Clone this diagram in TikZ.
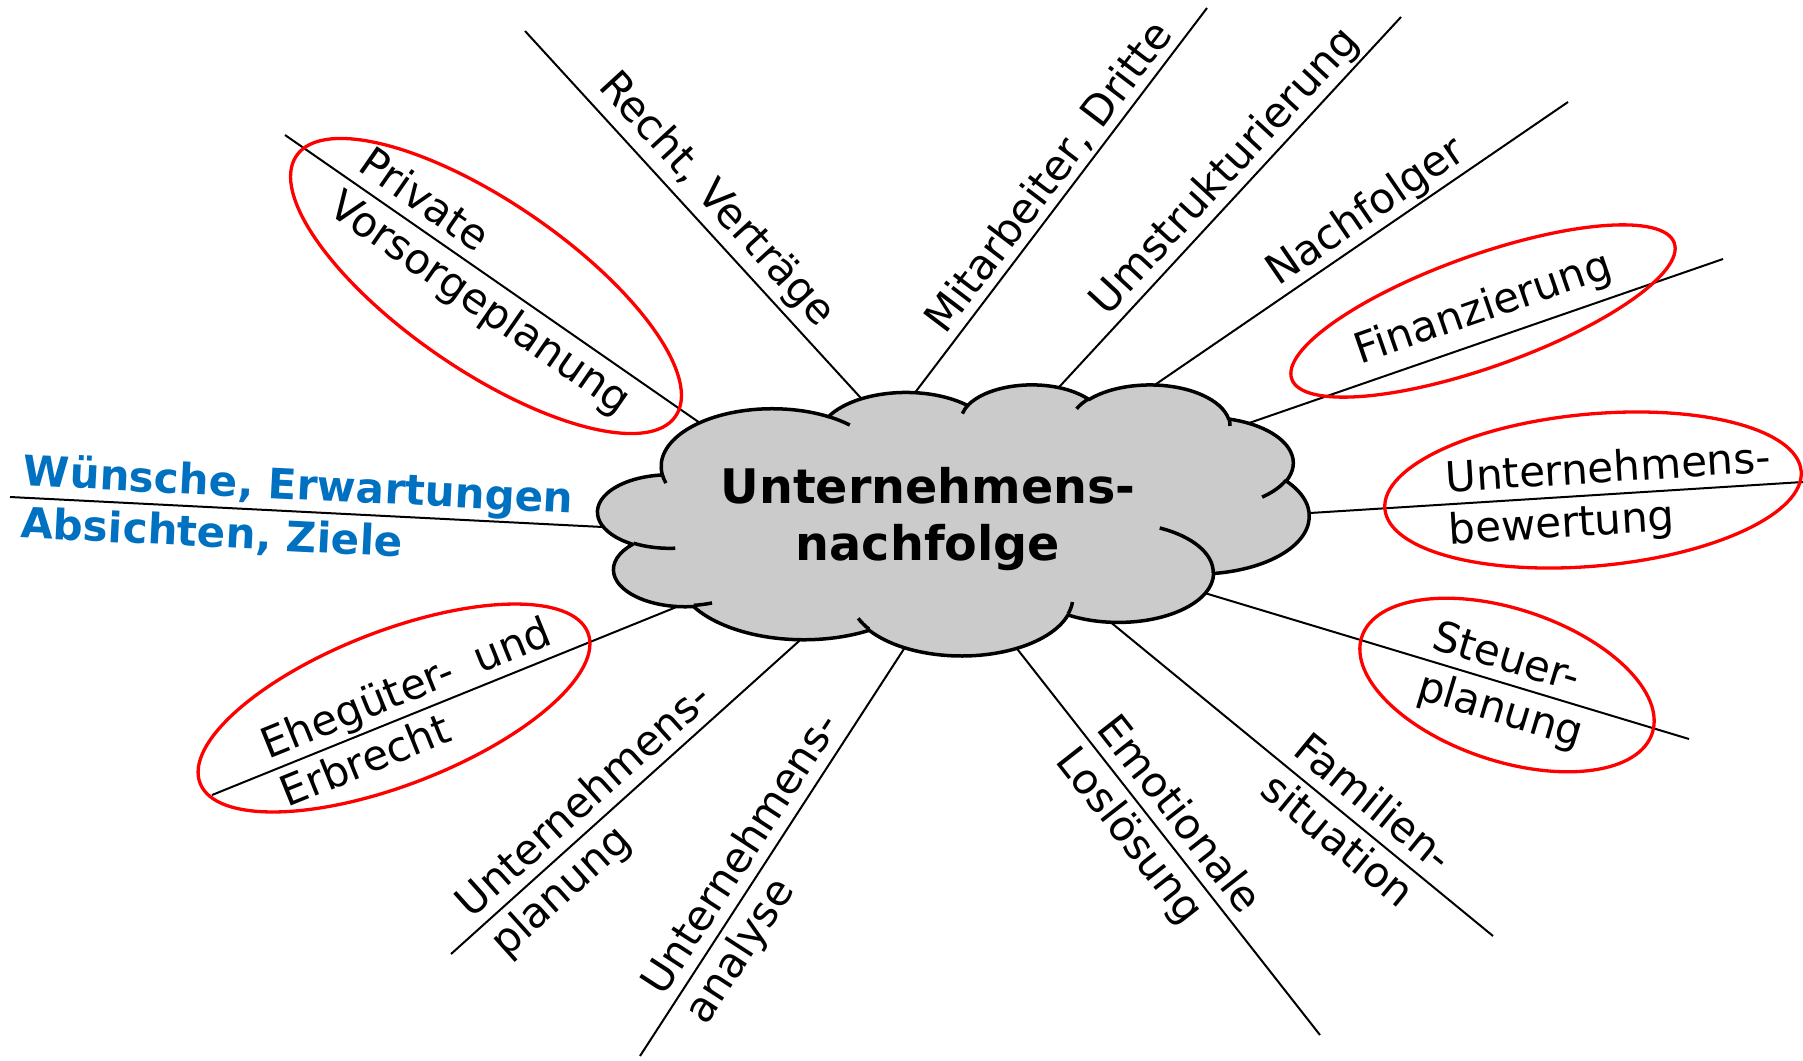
\documentclass[tikz,border=0pt]{standalone}
\usepackage{fontspec}
\setmainfont{DejaVu Sans}
\usetikzlibrary{calc}
\definecolor{wblue}{RGB}{0,112,192}
\definecolor{cloudgray}{RGB}{203,203,203}
% elliptical arc with DrawingML-style (visual) angles
\newcommand\carc[4]{arc[x radius=#1, y radius=#2, start angle={atan2(#1*sin(#3),#2*cos(#3))}, delta angle={mod(atan2(#1*sin(#3+#4),#2*cos(#3+#4))-atan2(#1*sin(#3),#2*cos(#3))+720,360)}]}
\begin{document}
\begin{tikzpicture}[x=0.5pt,y=0.5pt,
  conn/.style={line width=1pt, black},
  ring/.style={line width=1.65pt, red},
  cloudshape/.style={fill=cloudgray, draw=black, line width=1.75pt, line join=round},
  cloudtick/.style={draw=black, line width=1.75pt},
  lbl/.style={anchor=base west, inner sep=0pt, font=\fontsize{21}{25}\selectfont},
  wlbl/.style={anchor=base west, inner sep=0pt, font=\fontsize{21}{25}\selectfont\bfseries, text=wblue},
  ctext/.style={inner sep=0pt, align=center, font=\fontsize{23.8}{28.5}\selectfont\bfseries}
]
\useasboundingbox (0,0) rectangle (1803,-1060);

% end points of the connectors (c = at the cloud, o = outer end)
\coordinate (o1) at (525,-31);   \coordinate (c1) at (859,-396);
\coordinate (o2) at (285,-135);  \coordinate (c2) at (700,-423);
\coordinate (c3) at (917,-390);  \coordinate (o3) at (1207,-8);
\coordinate (c4) at (1061,-385); \coordinate (o4) at (1401,-17);
\coordinate (c5) at (1159,-382); \coordinate (o5) at (1568,-102);
\coordinate (c6) at (1252,-422); \coordinate (o6) at (1723,-259);
\coordinate (c7) at (1310,-513); \coordinate (o7) at (1803,-482);
\coordinate (c8) at (1208,-594); \coordinate (o8) at (1689,-739);
\coordinate (c9) at (1114,-625); \coordinate (o9) at (1493,-936);
\coordinate (c10) at (1018,-650); \coordinate (o10) at (1320,-1035);
\coordinate (c11) at (900,-655);  \coordinate (o11) at (640,-1056);
\coordinate (c12) at (798,-642);  \coordinate (o12) at (451,-954);
\coordinate (c13) at (674,-608);  \coordinate (o13) at (212,-795);
\coordinate (c14) at (603,-527);  \coordinate (o14) at (10,-497);

\foreach \i in {1,...,14}
  \draw[conn] (o\i) -- ($(c\i)!-8pt!(o\i)$);

% cloud
\begin{scope}[shift={(598,-384)}, xscale=1.6458, yscale=-0.6273]
  \path[cloudshape] (39.00,143.70)
    \carc{67.53}{91.90}{-190.487}{123.781}
    \carc{53.33}{72.67}{-144.102}{89.945}
    \carc{43.65}{59.45}{-145.808}{99.723}
    \carc{48.57}{65.95}{-130.986}{117.242}
    \carc{53.33}{72.73}{-78.709}{109.027}
    \carc{67.75}{92.20}{-46.267}{130.269}
    \carc{57.85}{78.67}{0.625}{114.033}
    \carc{67.52}{92.15}{22.452}{115.173}
    \carc{77.20}{105.43}{66.243}{75.711}
    \carc{43.60}{59.18}{-274.942}{146.736}
    \carc{43.45}{59.45}{-246.829}{152.519}
    -- cycle;
  \path[cloudtick]
    (46.93,261.77) \carc{43.45}{59.45}{86.742}{26.430}
    (69.28,348.99) \carc{43.60}{59.18}{73.610}{11.447}
    (164.78,390.90) \carc{67.52}{92.15}{137.624}{14.081}
    (288.27,347.51) \carc{67.52}{92.15}{6.453}{15.998}
    (341.29,229.54) \carc{57.85}{78.67}{-70.292}{70.917}
    (417.98,153.54) \carc{53.33}{72.73}{30.318}{27.752}
    (383.24,54.26) \carc{48.57}{65.95}{-13.744}{14.860}
    (290.78,39.52) \carc{48.57}{65.95}{-149.181}{18.197}
    (221.41,47.20) \carc{43.65}{59.45}{-163.494}{17.688}
    (140.00,51.92) \carc{67.53}{91.90}{-66.707}{12.319}
    (41.27,157.89) \carc{67.53}{91.90}{157.654}{11.858};
\end{scope}
\node[ctext] (center) at (928,-519) {Unternehmens-\\nachfolge};

% red rings
\draw[ring, rotate around={-34.5:(486,-286)}] (486,-286) ellipse[x radius=230, y radius=84];
\draw[ring, rotate around={19.6:(1483,-311)}] (1483,-311) ellipse[x radius=203, y radius=56];
\draw[ring, rotate around={5.2:(1593,-490)}] (1593,-490) ellipse[x radius=209, y radius=76];
\draw[ring, rotate around={-18.4:(1507,-685)}] (1507,-685) ellipse[x radius=153, y radius=76];
\draw[ring, rotate around={21.2:(394,-708)}] (394,-708) ellipse[x radius=208, y radius=77];

% labels
\node[lbl, rotate=-47.54] (t1) at ($(o1)!45pt!(c1)!7.5pt!90:(c1)$) {Recht, Verträge};
\node[lbl, rotate=-34.76] (t2a) at ($(o2)!39pt!(c2)!6pt!90:(c2)$) {Private};
\node[lbl, rotate=-34.76] (t2b) at ($(o2)!39pt!(c2)!-20pt!90:(c2)$) {Vorsorgeplanung};
\node[lbl, rotate=52.79] (t3) at ($(c3)!30pt!(o3)!5pt!90:(o3)$) {Mitarbeiter, Dritte};
\node[lbl, rotate=47.27] (t4) at ($(c4)!40.5pt!(o4)!6pt!90:(o4)$) {Umstrukturierung};
\node[lbl, rotate=34.40] (t5) at ($(c5)!76pt!(o5)!5.5pt!90:(o5)$) {Nachfolger};
\node[lbl, rotate=19.09] (t6) at ($(c6)!60.5pt!(o6)!9.5pt!90:(o6)$) {Finanzierung};
\node[lbl, rotate=3.60] (t7a) at ($(c7)!68.5pt!(o7)!6pt!90:(o7)$) {Unternehmens-};
\node[lbl, rotate=3.60] (t7b) at ($(c7)!68.5pt!(o7)!-20pt!90:(o7)$) {bewertung};
\node[lbl, rotate=-16.78] (t8a) at ($(c8)!114pt!(o8)!6pt!90:(o8)$) {Steuer-};
\node[lbl, rotate=-16.78] (t8b) at ($(c8)!114pt!(o8)!-20pt!90:(o8)$) {planung};
\node[lbl, rotate=-39.37] (t9a) at ($(c9)!109pt!(o9)!6.5pt!90:(o9)$) {Familien-};
\node[lbl, rotate=-39.37] (t9b) at ($(c9)!109pt!(o9)!-19.5pt!90:(o9)$) {situation};
\node[lbl, rotate=-51.89] (t10a) at ($(c10)!55pt!(o10)!6pt!90:(o10)$) {Emotionale};
\node[lbl, rotate=-51.89] (t10b) at ($(c10)!55pt!(o10)!-20pt!90:(o10)$) {Loslösung};
\node[lbl, rotate=57.04] (t11a) at ($(o11)!30.5pt!(c11)!6pt!90:(c11)$) {Unternehmens-};
\node[lbl, rotate=57.04] (t11b) at ($(o11)!30.5pt!(c11)!-20pt!90:(c11)$) {analyse};
\node[lbl, rotate=41.96] (t12a) at ($(o12)!19pt!(c12)!6pt!90:(c12)$) {Unternehmens-};
\node[lbl, rotate=41.96] (t12b) at ($(o12)!19pt!(c12)!-20pt!90:(c12)$) {planung};
\node[lbl, rotate=22.03] (t13a) at ($(o13)!32.5pt!(c13)!6pt!90:(c13)$) {Ehegüter-\hspace{0.27em} und};
\node[lbl, rotate=22.03] (t13b) at ($(o13)!32.5pt!(c13)!-20pt!90:(c13)$) {Erbrecht};
\node[wlbl, rotate=-2.90] (t14a) at ($(o14)!6pt!(c14)!6pt!90:(c14)$) {Wünsche, Erwartungen};
\node[wlbl, rotate=-2.90] (t14b) at ($(o14)!6pt!(c14)!-20pt!90:(c14)$) {Absichten, Ziele};
\end{tikzpicture}
\end{document}
